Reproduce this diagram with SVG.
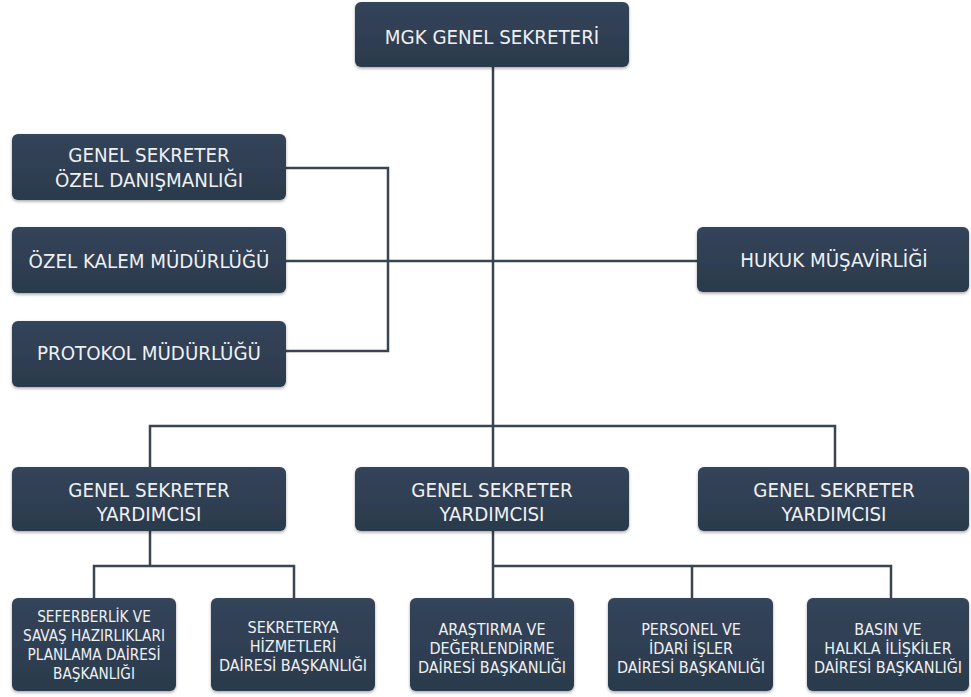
<svg xmlns="http://www.w3.org/2000/svg" width="971" height="697" viewBox="0 0 971 697">
<defs>
<filter id="sh" x="-5%" y="-10%" width="110%" height="125%">
<feDropShadow dx="0" dy="1.5" stdDeviation="1.5" flood-color="#000" flood-opacity="0.35"/>
</filter>
<linearGradient id="g" x1="0" y1="0" x2="0" y2="1">
<stop offset="0" stop-color="#34445a"/>
<stop offset="1" stop-color="#2b3a4b"/>
</linearGradient>
</defs>
<style>
.box{fill:url(#g);filter:url(#sh)}
.t{font-family:"DejaVu Sans Condensed","DejaVu Sans",sans-serif;font-stretch:condensed;fill:#eef1f3;text-anchor:middle;font-size:20.3px}
.s{font-size:16px}
.f{font-size:15.2px}
.c{fill:none;stroke:#3b4550;stroke-width:2.5}
</style>
<rect width="971" height="697" fill="#ffffff"/>
<g id="connectors">
<path class="c" d="M493 67V467"/>
<path class="c" d="M150 467V426H835V467"/>
<path class="c" d="M286 168H388V351H286"/>
<path class="c" d="M286 261H697"/>
<path class="c" d="M150 531V566"/>
<path class="c" d="M94 598V566H294V598"/>
<path class="c" d="M493 531V598"/>
<path class="c" d="M493 566H891V598"/>
<path class="c" d="M692 566V598"/>
</g>
<g id="mgk"><rect class="box" x="355" y="2" width="274" height="65" rx="6"/><text class="t" x="492" y="44">MGK GENEL SEKRETERİ</text></g>
<g id="danismanlik"><rect class="box" x="12" y="134" width="274" height="66" rx="6"/><text class="t" x="149" y="162">GENEL SEKRETER</text><text class="t" x="149" y="187">ÖZEL DANIŞMANLIĞI</text></g>
<g id="kalem"><rect class="box" x="12" y="227" width="274" height="66" rx="6"/><text class="t" x="149" y="268">ÖZEL KALEM MÜDÜRLÜĞÜ</text></g>
<g id="protokol"><rect class="box" x="12" y="321" width="274" height="66" rx="6"/><text class="t" x="149" y="360">PROTOKOL MÜDÜRLÜĞÜ</text></g>
<g id="hukuk"><rect class="box" x="697" y="227" width="272" height="65" rx="6"/><text class="t" x="834" y="267">HUKUK MÜŞAVİRLİĞİ</text></g>
<g id="yrd1"><rect class="box" x="12" y="467" width="274" height="64" rx="6"/><text class="t" x="149" y="497">GENEL SEKRETER</text><text class="t" x="149" y="521">YARDIMCISI</text></g>
<g id="yrd2"><rect class="box" x="355" y="467" width="274" height="64" rx="6"/><text class="t" x="492" y="497">GENEL SEKRETER</text><text class="t" x="492" y="521">YARDIMCISI</text></g>
<g id="yrd3"><rect class="box" x="698" y="467" width="271" height="64" rx="6"/><text class="t" x="834" y="497">GENEL SEKRETER</text><text class="t" x="834" y="521">YARDIMCISI</text></g>
<g id="seferberlik"><rect class="box" x="12" y="598" width="164" height="93" rx="6"/><text class="t f" x="94" y="622">SEFERBERLİK VE</text><text class="t f" x="94" y="641">SAVAŞ HAZIRLIKLARI</text><text class="t f" x="94" y="660">PLANLAMA DAİRESİ</text><text class="t f" x="94" y="679">BAŞKANLIĞI</text></g>
<g id="sekreterya"><rect class="box" x="211" y="598" width="164" height="93" rx="6"/><text class="t s" x="293" y="633">SEKRETERYA</text><text class="t s" x="293" y="652">HİZMETLERİ</text><text class="t s" x="293" y="671">DAİRESİ BAŞKANLIĞI</text></g>
<g id="arastirma"><rect class="box" x="410" y="598" width="164" height="93" rx="6"/><text class="t s" x="492" y="635">ARAŞTIRMA VE</text><text class="t s" x="492" y="654">DEĞERLENDİRME</text><text class="t s" x="492" y="673">DAİRESİ BAŞKANLIĞI</text></g>
<g id="personel"><rect class="box" x="608" y="598" width="165" height="93" rx="6"/><text class="t s" x="691" y="635">PERSONEL VE</text><text class="t s" x="691" y="654">İDARİ İŞLER</text><text class="t s" x="691" y="673">DAİRESİ BAŞKANLIĞI</text></g>
<g id="basin"><rect class="box" x="807" y="598" width="162" height="93" rx="6"/><text class="t s" x="888" y="635">BASIN VE</text><text class="t s" x="888" y="654">HALKLA İLİŞKİLER</text><text class="t s" x="888" y="673">DAİRESİ BAŞKANLIĞI</text></g>
</svg>
